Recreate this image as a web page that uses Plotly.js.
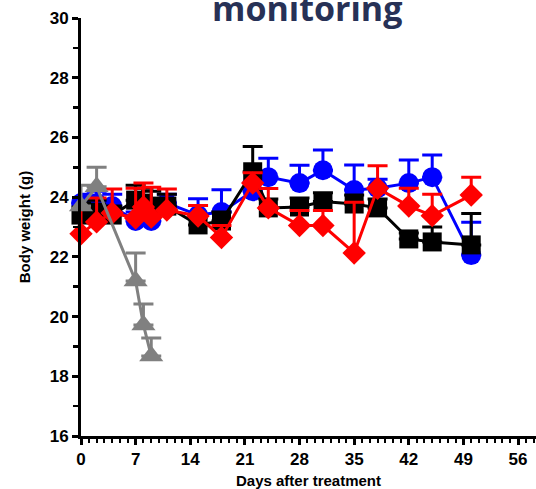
<!DOCTYPE html>
<html><head><meta charset="utf-8">
<script src="https://cdn.plot.ly/plotly-3.0.1.min.js"></script>
<style>html,body{margin:0;padding:0;background:#fff}#c{width:536px;height:489px}</style>
</head><body><div id="c"></div>
<script>
const days = [0,2,4,7,8,9,11,15,18,22,24,28,31,35,38,42,45,50];
const blueVals = [23.8,23.8,23.7,23.2,23.5,23.2,23.8,23.4,23.5,24.2,24.67,24.47,24.9,24.24,24.3,24.47,24.67,22.06];
const blueErr  = [0.3,0.4,0.4,0.3,0.4,0.4,0.3,0.55,0.75,0.3,0.63,0.6,0.68,0.84,0.3,0.77,0.74,1.1];
const blackVals = [23.4,23.5,23.4,23.9,23.8,23.7,23.7,23.07,23.2,24.85,23.64,23.67,23.85,23.77,23.64,22.6,22.5,22.4];
const blackErr  = [0.4,0.4,0.3,0.5,0.5,0.5,0.4,0.3,0.3,0.85,0.3,0.3,0.3,0.3,0.3,0.2,0.5,1.05];
const redVals = [22.77,23.17,23.47,23.3,23.67,23.33,23.57,23.37,22.65,24.47,23.64,23.05,23.05,22.13,24.3,23.7,23.38,24.07];
const redErr  = [0.9,0.8,0.8,1.0,0.8,1.0,0.7,0.35,0.4,0.35,0.65,0.5,0.5,1.7,0.75,0.6,0.72,0.6];
const grayDays = [0,2,7,8,9];
const grayVals = [23.7,24.35,21.19,19.72,18.68];
const grayErr  = [0.7,0.65,0.94,0.7,0.6];
const yTicks = [16,18,20,22,24,26,28,30];
const xTicks = [0,7,14,21,28,35,42,49,56];

function tr(x,y,e,color,symbol,size){
  return {x:x,y:y,type:'scatter',mode:'lines+markers',
    line:{color:color,width:3},
    marker:{color:color,symbol:symbol,size:size,line:{width:0}},
    error_y:{type:'data',symmetric:false,array:e,arrayminus:e.map(()=>0),color:color,thickness:3,width:10},
    showlegend:false,cliponaxis:false};
}
const data = [
  tr(days,blueVals,blueErr,'#0000ff','circle',20),
  tr(days,blackVals,blackErr,'#000000','square',19),
  tr(days,redVals,redErr,'#ff0000','diamond',18),
  tr(grayDays,grayVals,grayErr,'#808080','triangle-up',21)
];
const tf = {family:'Liberation Sans, Arial, sans-serif',size:15,color:'#000'};
const layout = {
  width:536,height:489,
  margin:{l:81,r:0,t:18,b:53},
  paper_bgcolor:'#fff',plot_bgcolor:'#fff',
  xaxis:{range:[0,58.3],tickvals:xTicks,ticktext:xTicks.map(String),
    showgrid:false,zeroline:false,showline:true,linecolor:'#000',linewidth:3,
    ticks:'outside',ticklen:6,tickwidth:3,tickcolor:'#000',
    minor:{dtick:1,tick0:0,ticks:'outside',ticklen:4,tickwidth:2,tickcolor:'#000',showgrid:false},
    tickfont:{family:tf.family,size:17,color:'#000',weight:'bold'},
    title:{text:'<b>Days after treatment</b>',font:tf,standoff:9}},
  yaxis:{range:[16,30],tickvals:yTicks,ticktext:yTicks.map(String),
    showgrid:false,zeroline:false,showline:true,linecolor:'#000',linewidth:3,
    ticks:'outside',ticklen:6,tickwidth:3,tickcolor:'#000',
    minor:{dtick:1,tick0:0,ticks:'outside',ticklen:5,tickwidth:2.5,tickcolor:'#000',showgrid:false},
    tickfont:{family:tf.family,size:17,color:'#000',weight:'bold'},
    title:{text:'<b>Body weight (g)</b>',font:tf,standoff:16}},
  annotations:[{text:'<b>monitoring</b>',xref:'paper',yref:'paper',x:0.497,y:0.965,
    xanchor:'center',yanchor:'bottom',showarrow:false,
    font:{family:'Open Sans, sans-serif',size:34,color:'#273156'}}]
};
Plotly.newPlot('c',data,layout,{displayModeBar:false,staticPlot:true});
</script></body></html>
